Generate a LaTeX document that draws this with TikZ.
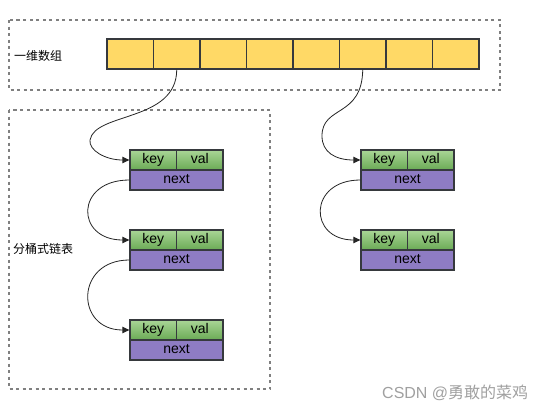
\documentclass[tikz,border=0pt]{standalone}
\usepackage{fontspec}
\setmainfont{Liberation Sans}
\newfontfamily\cjk{Noto Sans CJK SC}
\usetikzlibrary{arrows.meta}
\definecolor{arrfill}{HTML}{FFD966}
\definecolor{edge}{HTML}{36393D}
\definecolor{keytop}{HTML}{A9D596}
\definecolor{keybot}{HTML}{6AAA55}
\definecolor{nextfill}{HTML}{8E7CC3}
\definecolor{framegray}{HTML}{808080}
\definecolor{wmgray}{HTML}{A0A0A0}
\tikzset{
  frame/.style={draw=framegray, line width=1.3pt, dash pattern=on 3pt off 3.5pt},
  cell/.style={draw=edge, line width=1.3pt, fill=arrfill, minimum width=46.5pt, minimum height=30pt, inner sep=0pt},
  kv/.style={draw=edge, line width=1.3pt, top color=keytop, bottom color=keybot, minimum width=46.5pt, minimum height=20pt, inner sep=0pt, text height=9.8pt, text depth=2.9pt, font=\fontsize{14}{15}\selectfont},
  nx/.style={draw=edge, line width=1.3pt, fill=nextfill, minimum width=93pt, minimum height=20pt, inner sep=0pt, text height=9.8pt, text depth=2.9pt, font=\fontsize{14}{15}\selectfont},
  link/.style={draw=black!85, line width=0.8pt, -{Triangle[length=7pt,width=6.5pt]}},
  lbl/.style={anchor=west, inner sep=0pt, font=\cjk\fontsize{12}{12}\selectfont}
}
\begin{document}
\begin{tikzpicture}[x=1pt,y=-1pt]
\useasboundingbox[fill=white] (0,0) rectangle (542,410);
% frames
\draw[frame] (9,20) rectangle (500,90);
\draw[frame] (9,110) rectangle (270,389);
\node[lbl] (lblA) at (14,55.5) {一维数组};
\node[lbl] (lblB) at (13,249) {分桶式链表};
% array
\foreach \i in {1,...,8}{
  \node[cell] (a\i) at ({107+46.5*(\i-0.5)},54) {};
}
% left column
\node[kv] (k1) at (153.25,160) {key};
\node[kv] (v1) at (199.75,160) {val};
\node[nx] (n1) at (176.5,180) {next};
\node[kv] (k2) at (153.25,240) {key};
\node[kv] (v2) at (199.75,240) {val};
\node[nx] (n2) at (176.5,260) {next};
\node[kv] (k3) at (153.25,330) {key};
\node[kv] (v3) at (199.75,330) {val};
\node[nx] (n3) at (176.5,350) {next};
% right column
\node[kv] (rk1) at (384.25,160) {key};
\node[kv] (rv1) at (430.75,160) {val};
\node[nx] (rn1) at (407.5,180) {next};
\node[kv] (rk2) at (384.25,240) {key};
\node[kv] (rv2) at (430.75,240) {val};
\node[nx] (rn2) at (407.5,260) {next};
% links
\draw[link] (a2.south) .. controls (176.5,122) and (95,112) .. (90,140) .. controls (88.5,150) and (105,160) .. (k1.west);
\draw[link] (a6.south) .. controls (362,118) and (322,105) .. (322,136) .. controls (322,152) and (335,160) .. (rk1.west);
\draw[link] (n1.west) .. controls (75,180) and (75,240) .. (k2.west);
\draw[link] (n2.west) .. controls (75,260) and (75,330) .. (k3.west);
\draw[link] (rn1.west) .. controls (308,180) and (308,240) .. (rk2.west);
% watermark
\node[anchor=west, inner sep=0pt, text=wmgray, font=\fontsize{16}{16}\selectfont] (wm) at (382,393) {CSDN @{\cjk 勇敢的菜鸡}};
\end{tikzpicture}
\end{document}
